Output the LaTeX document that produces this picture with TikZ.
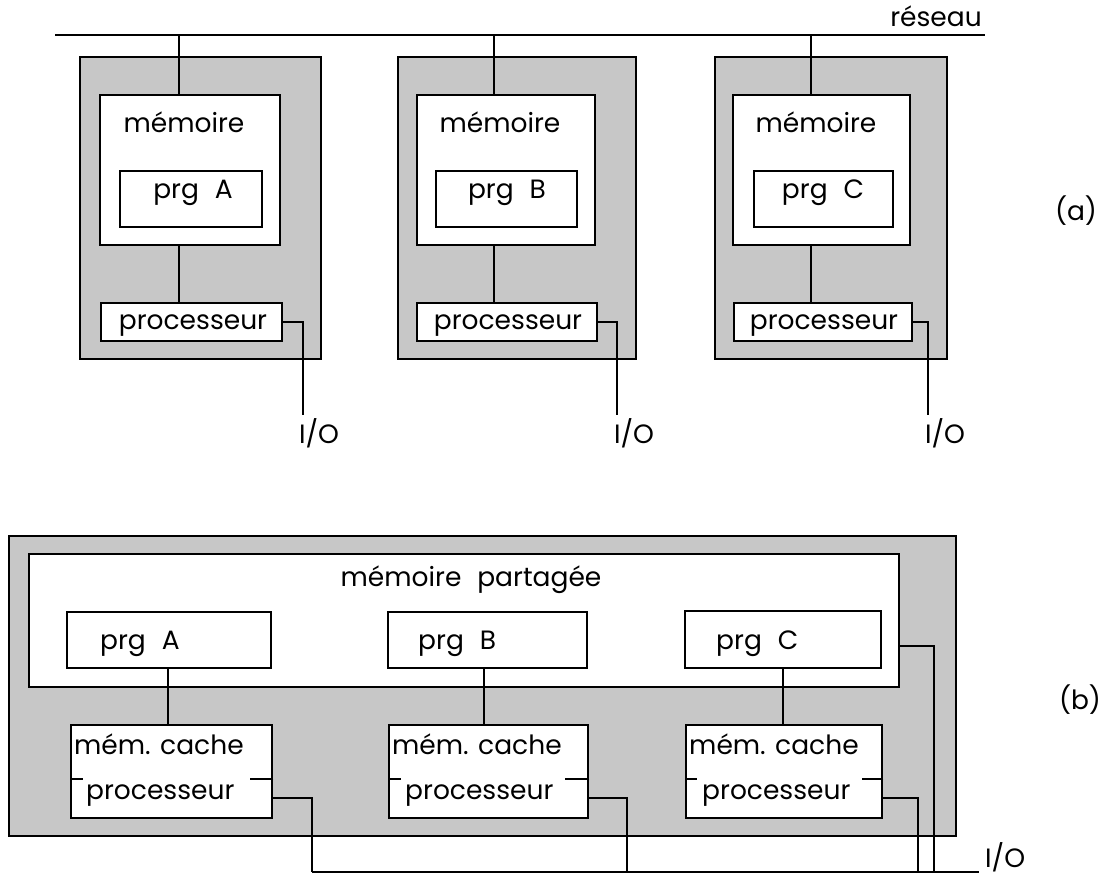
\documentclass[tikz,border=0pt]{standalone}
\usepackage{fontspec}
\setmainfont{Poppins}
\begin{document}
\begin{tikzpicture}[x=1pt,y=-1pt,
  shadebox/.style={draw, line width=2.4pt, fill=black!22, anchor=north west, inner sep=0pt},
  wbox/.style={draw, line width=2.4pt, fill=white, anchor=north west, inner sep=0pt},
  wire/.style={line width=2.4pt},
  lbl/.style={font=\fontsize{26.5}{30}\selectfont, inner sep=0pt, anchor=base},
  lblw/.style={lbl, anchor=base west}]
\useasboundingbox (0,0) rectangle (1117,878);

% ---------------- (a) ----------------
\coordinate (netW) at (55,35);
\coordinate (netE) at (985,35);
\draw[line width=2.8pt] (netW) -- (netE);
\node[lbl] (reseau) at (936,26) {réseau};

% module A
\node[shadebox, minimum width=241, minimum height=302] (outA) at (79,56) {};
\node[wbox, minimum width=180, minimum height=150] (memA) at (99,94) {};
\node[wbox, minimum width=142, minimum height=56] (prgA) at (119,170) {};
\node[wbox, minimum width=181, minimum height=38] (procA) at (100,302) {};
% module B
\node[shadebox, minimum width=238, minimum height=302] (outB) at (397,56) {};
\node[wbox, minimum width=178, minimum height=150] (memB) at (416,94) {};
\node[wbox, minimum width=141, minimum height=56] (prgB) at (435,170) {};
\node[wbox, minimum width=180, minimum height=38] (procB) at (416,302) {};
% module C
\node[shadebox, minimum width=232, minimum height=302] (outC) at (714,56) {};
\node[wbox, minimum width=177, minimum height=150] (memC) at (732,94) {};
\node[wbox, minimum width=139, minimum height=56] (prgC) at (753,170) {};
\node[wbox, minimum width=178, minimum height=38] (procC) at (733,302) {};

% texts (a)
\node[lbl] (tmemA) at (184,132) {mémoire};
\node[lbl] (tmemB) at (500,132) {mémoire};
\node[lbl] (tmemC) at (816,132) {mémoire};
\node[lbl] (tprgA) at (193,198) {prg\,\, A};
\node[lbl] (tprgB) at (507,198) {prg\,\, B};
\node[lbl] (tprgC) at (823,198) {prg\,\, C};
\node[lbl] (tprocA) at (193,329) {processeur};
\node[lbl] (tprocB) at (508,329) {processeur};
\node[lbl] (tprocC) at (824,329) {processeur};
\node[lbl] (ioA) at (319,443) {I/O};
\node[lbl] (ioB) at (634,443) {I/O};
\node[lbl] (ioC) at (945,443) {I/O};
\node[lbl] (la) at (1076,220) {(a)};

% connectors (a)
\coordinate (tapA) at (179,35);
\coordinate (tapB) at (494,35);
\coordinate (tapC) at (811,35);
\draw[wire] (tapA) -- (tapA |- memA.north);
\draw[wire] (tapB) -- (tapB |- memB.north);
\draw[wire] (tapC) -- (tapC |- memC.north);
\draw[wire] (tapA |- memA.south) -- (tapA |- procA.north);
\draw[wire] (tapB |- memB.south) -- (tapB |- procB.north);
\draw[wire] (tapC |- memC.south) -- (tapC |- procC.north);
\coordinate (endA) at (303,415);
\coordinate (endB) at (617,415);
\coordinate (endC) at (928,415);
\draw[wire] (procA.east) -- (endA |- procA.east) -- (endA);
\draw[wire] (procB.east) -- (endB |- procB.east) -- (endB);
\draw[wire] (procC.east) -- (endC |- procC.east) -- (endC);

% ---------------- (b) ----------------
\node[shadebox, minimum width=947, minimum height=300] (outS) at (8,535) {};
\node[wbox, minimum width=870, minimum height=133] (shared) at (28,553) {};
\node[wbox, minimum width=204, minimum height=56] (sprgA) at (66,611) {};
\node[wbox, minimum width=199, minimum height=56] (sprgB) at (387,611) {};
\node[wbox, minimum width=196, minimum height=57] (sprgC) at (684,610) {};
\node[wbox, minimum width=201, minimum height=93] (cacheA) at (70,724) {};
\node[wbox, minimum width=199, minimum height=93] (cacheB) at (388,724) {};
\node[wbox, minimum width=196, minimum height=93] (cacheC) at (685,724) {};

\node[lbl] (tshared) at (471,586) {mémoire\,\, partagée};
\node[lblw] (tsprgA) at (100,649) {prg\,\, A};
\node[lblw] (tsprgB) at (418,649) {prg\,\, B};
\node[lblw] (tsprgC) at (716,649) {prg\,\, C};
\node[lblw] (tcacheA) at (74,754) {mém. cache};
\node[lblw] (tcacheB) at (392,754) {mém. cache};
\node[lblw] (tcacheC) at (689,754) {mém. cache};
\node[lblw] (tcprocA) at (86,799) {processeur};
\node[lblw] (tcprocB) at (405,799) {processeur};
\node[lblw] (tcprocC) at (702,799) {processeur};
\node[lbl] (lb) at (1080,709) {(b)};
\node[lblw] (ioS) at (985,867) {I/O};

% ticks dividing cache / processor
\draw[wire] (cacheA.west |- 0,779) -- ++(13,0);
\draw[wire] (cacheA.east |- 0,779) -- ++(-23,0);
\draw[wire] (cacheB.west |- 0,779) -- ++(13,0);
\draw[wire] (cacheB.east |- 0,779) -- ++(-24,0);
\draw[wire] (cacheC.west |- 0,779) -- ++(12,0);
\draw[wire] (cacheC.east |- 0,779) -- ++(-21,0);

% connectors (b)
\draw[wire] (sprgA.south -| 168,0) -- (cacheA.north -| 168,0);
\draw[wire] (sprgB.south -| 484,0) -- (cacheB.north -| 484,0);
\draw[wire] (sprgC.south -| 783,0) -- (cacheC.north -| 783,0);
\coordinate (dA) at (312,872);
\coordinate (dB) at (627,872);
\coordinate (dC) at (918,872);
\coordinate (dS) at (934,872);
\coordinate (ioEnd) at (979,872);
\draw[wire] (cacheA.east |- 0,798) -- (dA |- 0,798) -- (dA);
\draw[wire] (cacheB.east |- 0,798) -- (dB |- 0,798) -- (dB);
\draw[wire] (cacheC.east |- 0,798) -- (dC |- 0,798) -- (dC);
\draw[wire] (shared.east |- 0,646) -- (dS |- 0,646) -- (dS);
\draw[wire] (dA) -- (ioEnd);
\end{tikzpicture}
\end{document}
